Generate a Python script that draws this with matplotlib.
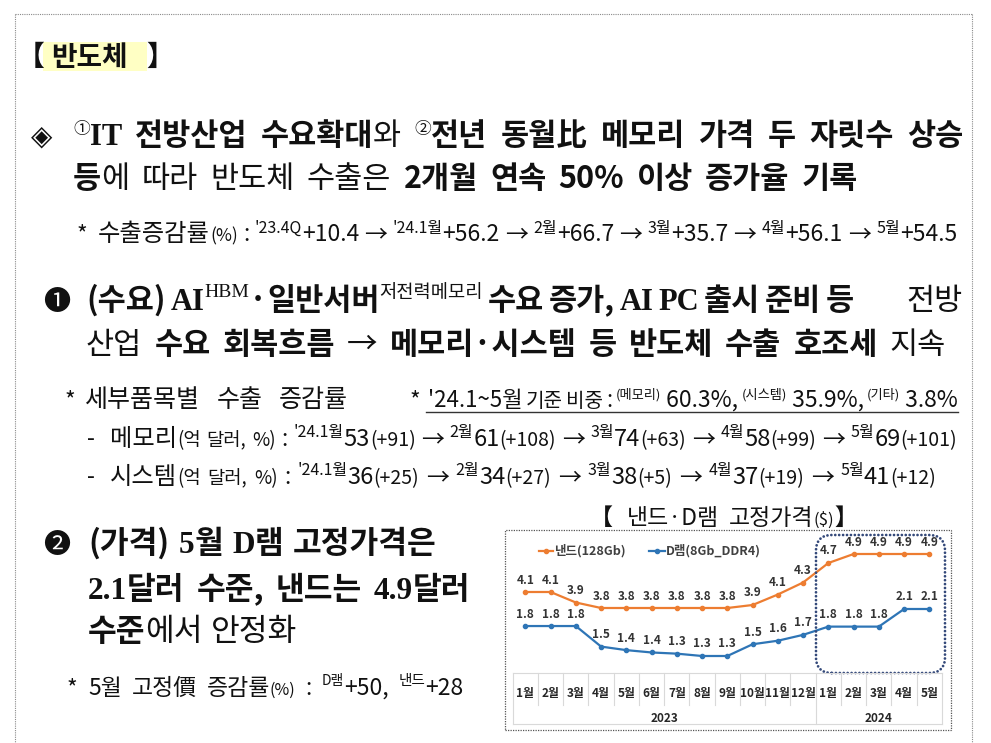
import matplotlib
matplotlib.use('Agg')
import matplotlib.pyplot as plt
from matplotlib.transforms import IdentityTransform, blended_transform_factory
from matplotlib.patches import Rectangle, FancyBboxPatch
from matplotlib.lines import Line2D

plt.rcParams['font.family'] = ['Noto Sans CJK KR', 'DejaVu Sans']

# ---------------- data ----------------
months = ['1월', '2월', '3월', '4월', '5월', '6월', '7월', '8월', '9월', '10월', '11월', '12월',
          '1월', '2월', '3월', '4월', '5월']
years = ['2023', '2024']
year_month_counts = [12, 5]
nand_price = [4.14, 4.14, 3.93, 3.82, 3.82, 3.82, 3.82, 3.82, 3.82, 3.88, 4.09, 4.33,
              4.72, 4.90, 4.90, 4.90, 4.90]
dram_price = [1.81, 1.81, 1.81, 1.46, 1.40, 1.36, 1.34, 1.30, 1.30, 1.50, 1.56, 1.66,
              1.80, 1.80, 1.80, 2.10, 2.10]
nand_label = '낸드(128Gb)'
dram_label = 'D램(8Gb_DDR4)'

export_periods = ["'23.4Q", "'24.1월", '2월', '3월', '4월', '5월']
export_growth = [10.4, 56.2, 66.7, 35.7, 56.1, 54.5]
item_months = ["'24.1월", '2월', '3월', '4월', '5월']
memory_exports = [53, 61, 74, 58, 69]
memory_growth = [91, 108, 63, 99, 101]
system_exports = [36, 34, 38, 37, 41]
system_growth = [25, 27, 5, 19, 12]
share_names = ['(메모리)', '(시스템)', '(기타)']
share_values = [60.3, 35.9, 3.8]
dram_may_change = 50
nand_may_change = 28

# ---------------- figure ----------------
W, H = 991, 743
fig = plt.figure(figsize=(W / 100, H / 100), dpi=100)
fig.patch.set_facecolor('white')
renderer = fig.canvas.get_renderer()
ID = IdentityTransform()
KR = ['Noto Sans CJK KR', 'DejaVu Sans']
SERIF = ['Liberation Serif', 'DejaVu Serif']
INK = '#111111'


def R(t, s, w='normal', f=None, r=0, c=INK):
    return (t, dict(s=s, w=w, f=f or KR, r=r, c=c))


def mk(run, x, y):
    t, st = run
    return fig.text(x, H - y + st['r'], t, transform=ID, ha='left', va='baseline',
                    fontsize=st['s'], fontweight=st['w'], family=st['f'], color=st['c'])


def place_line(words, y, x0, x1=None, gap=8):
    built, widths = [], []
    for w in words:
        if isinstance(w, tuple):
            w = [w]
        items, tot = [], 0
        for run in w:
            t = mk(run, 0, y)
            wd = t.get_window_extent(renderer).width
            items.append((t, wd))
            tot += wd
        built.append(items)
        widths.append(tot)
    if x1 is not None and len(words) > 1:
        gap = (x1 - x0 - sum(widths)) / (len(words) - 1)
    x = x0
    for items, wt in zip(built, widths):
        xx = x
        for t, wd in items:
            t.set_x(xx)
            xx += wd
        x += wt + gap


# page border (dotted)
for xs, ys in [([15, 15], [H - 14, 0]), ([15, 972], [H - 14, H - 14]), ([972, 972], [H - 14, 0])]:
    fig.add_artist(Line2D(xs, ys, transform=ID, color='#8a8a8a', lw=0.8, ls=(0, (1, 1))))

# heading
BIG = 22
fig.add_artist(Rectangle((43, H - 71), 104, 29, transform=ID, facecolor='#FFFFC4', edgecolor='none'))
mk(R('【', 20, 'bold'), 17, 66)
mk(R('반도체', 20, 'bold'), 51, 66)
mk(R('】', 20, 'bold'), 146, 66)

# ◈ paragraph
mk(R('◈', 20), 31, 145)
place_line([
    [R('①', 12, r=11), R('IT', BIG, 'bold', SERIF)],
    R('전방산업', BIG, 'bold'),
    [R('수요확대', BIG, 'bold'), R('와', BIG)],
    [R('②', 12, r=11), R('전년', BIG, 'bold')],
    R('동월比', BIG, 'bold'), R('메모리', BIG, 'bold'), R('가격', BIG, 'bold'),
    R('두', BIG, 'bold'), R('자릿수', BIG, 'bold'), R('상승', BIG, 'bold'),
], 145, 73, 963)
place_line([
    [R('등', BIG, 'bold'), R('에', BIG)],
    R('따라', BIG), R('반도체', BIG), R('수출은', BIG),
    R('2개월', BIG, 'bold'), R('연속', BIG, 'bold'), R('50%', BIG, 'bold'),
    R('이상', BIG, 'bold'), R('증가율', BIG, 'bold'), R('기록', BIG, 'bold'),
], 188, 73, 858)

NOTE = 16.5
SUP = 11.5
words = [[R('수출증감률', 17.5), R('(%)', 12.5)], R(':', NOTE)]
for i, (p, g) in enumerate(zip(export_periods, export_growth)):
    if i > 0:
        words.append(R('→', NOTE))
    words.append([R(p, SUP, r=8), R(f'+{g:.1f}', NOTE)])
mk(R('*', NOTE), 77, 241)
place_line(words, 241, 98, 957)

# ❶ paragraph
mk(R('❶', 19.5), 43, 310)
place_line([
    R('(수요)', BIG, 'bold'),
    [R('AI', BIG, 'bold', SERIF), R('HBM', 14, 'normal', SERIF, r=13), R('·', BIG, 'bold'),
     R('일반서버', BIG, 'bold'), R('저전력메모리', 13.5, r=12)],
    R('수요', BIG, 'bold'), R('증가,', BIG, 'bold'),
    R('AI', BIG, 'bold', SERIF), R('PC', BIG, 'bold', SERIF),
    R('출시', BIG, 'bold'), R('준비', BIG, 'bold'), R('등', BIG, 'bold'),
], 310, 86, 854)
place_line([R('전방', BIG)], 310, 906)
place_line([
    R('산업', BIG), R('수요', BIG, 'bold'), R('회복흐름', BIG, 'bold'), R('→', BIG),
    R('메모리·시스템', BIG, 'bold'), R('등', BIG, 'bold'), R('반도체', BIG, 'bold'),
    R('수출', BIG, 'bold'), R('호조세', BIG, 'bold'), R('지속', BIG),
], 354, 86, 946)

# detail notes
mk(R('*', NOTE), 65, 407)
place_line([R('세부품목별', 18), R('수출', 18), R('증감률', 18)], 407, 85, 348)
mk(R('*', NOTE), 410, 407)
words = [R("'24.1~5월", 16), R('기준', 14.5), R('비중', 14.5), R(':', 16)]
for i, (n, v) in enumerate(zip(share_names, share_values)):
    sep = ',' if i < len(share_names) - 1 else ''
    words.append([R(n, 9.5, r=8), R(f' {v:.1f}%{sep}', 16.5)])
place_line(words, 407, 428, 958)
fig.add_artist(Line2D([426, 958], [H - 412, H - 412], transform=ID, color='#333333', lw=1.0))


def item_line(name, vals, grs, y, x1):
    words = [[R('-', NOTE)], [R(name, 17.5), R('(억', 13.5)], R('달러,', 13.5), R('%)', 13.5),
             R(':', NOTE)]
    for i, (m, v, g) in enumerate(zip(item_months, vals, grs)):
        if i > 0:
            words.append(R('→', NOTE))
        words.append([R(m, SUP, r=9), R(f'{v}', 17), R(f'(+{g})', 14)])
    place_line(words[:1], y, 87)
    place_line(words[1:], y, 110, x1)


item_line('메모리', memory_exports, memory_growth, 446, 957)
item_line('시스템', system_exports, system_growth, 484, 936)

# ❷ paragraph
B2 = 22.5
mk(R('❷', 19.5), 43, 553)
place_line([
    R('(가격)', B2, 'bold'), [R('5', B2, 'bold', SERIF), R('월', B2, 'bold')],
    [R('D', B2, 'bold', SERIF), R('램', B2, 'bold')], R('고정가격은', B2, 'bold'),
], 553, 88, 437)
place_line([
    [R('2.1', B2, 'bold', SERIF), R('달러', B2, 'bold')], R('수준,', B2, 'bold'),
    R('낸드는', B2, 'bold'), [R('4.9', B2, 'bold', SERIF), R('달러', B2, 'bold')],
], 599, 88, 470)
place_line([[R('수준', B2, 'bold'), R('에서', B2)], R('안정화', B2)], 641, 88, 297)

M = 16.5
mk(R('*', M), 67, 695)
place_line([
    R('5월', M), R('고정價', M), [R('증감률', M), R('(%)', 11.5)], R(':', M),
    [R('D램', 10, r=10), R(f'+{dram_may_change},', M)],
    [R('낸드', 10.5, r=10), R(f'+{nand_may_change}', M)],
], 695, 88, 463)

# ---------------- inset chart ----------------
fig.add_artist(Rectangle((505, H - 730), 446, 200, transform=ID, fill=False,
                         ec='#555555', lw=0.9, ls=(0, (1, 1))))
mk(R('【', 16.5, 'bold'), 590, 525)
place_line([[R('낸드·D램', 16.5)]], 525, 627)
place_line([[R('고정가격', 16.5), R('($)', 12), R('】', 16.5, 'bold')]], 525, 729)

ax_l, ax_r, ax_top, ax_bot = 512.7, 942.0, 535.0, 673.0
ax = fig.add_axes([ax_l / W, (H - ax_bot) / H, (ax_r - ax_l) / W, (ax_bot - ax_top) / H])
xs = list(range(len(months)))
ax.set_xlim(-0.5, len(months) - 0.5)
ax.set_ylim(2.52, 5.28)
ax.axis('off')
ax2 = ax.twinx()
ax2.set_ylim(1.0106, 3.3596)
ax2.axis('off')

ORANGE, BLUE, LAB = '#ED7D31', '#2E75B6', '#333333'
ax.plot(xs, nand_price, color=ORANGE, lw=1.6, marker='o', ms=3, zorder=3)
ax2.plot(xs, dram_price, color=BLUE, lw=1.6, marker='o', ms=3, zorder=3)
for a, vals in ((ax, nand_price), (ax2, dram_price)):
    for i, v in zip(xs, vals):
        a.annotate(f'{v:.1f}', (i, v), xytext=(0, 12), textcoords='offset pixels',
                   ha='center', va='center', fontsize=8.5, fontweight='bold', color=LAB,
                   annotation_clip=False)

# legend
ly = H - 551
for (x0, x1, col, lab) in ((539, 553, ORANGE, nand_label), (649, 665, BLUE, dram_label)):
    fig.add_artist(Line2D([x0, x1], [ly, ly], transform=ID, color=col, lw=1.6))
    fig.add_artist(Line2D([(x0 + x1) / 2], [ly], transform=ID, color=col, marker='o', ms=3))
    fig.text(x1 + 1, ly, lab, transform=ID, ha='left', va='center', fontsize=9,
             fontweight='bold', color='#404040')

# category table
tb = blended_transform_factory(ax.transData, ID)
GRID = '#D9D9D9'
fig.add_artist(Line2D([-0.5, len(months) - 0.5], [H - 673, H - 673], transform=tb, color=GRID, lw=0.8))
fig.add_artist(Line2D([-0.5, len(months) - 0.5], [H - 724, H - 724], transform=tb, color=GRID, lw=0.8))
bounds = [-0.5]
for c in year_month_counts:
    bounds.append(bounds[-1] + c)
for i in range(len(months) + 1):
    b = i - 0.5
    ybot = H - 724 if b in bounds else H - 705
    fig.add_artist(Line2D([b, b], [H - 673, ybot], transform=tb, color=GRID, lw=0.8))
for i, m in enumerate(months):
    fig.text(i, H - 693, m, transform=tb, ha='center', va='center', fontsize=8.5,
             fontweight='bold', color='#262626')
for k, yr in enumerate(years):
    fig.text((bounds[k] + bounds[k + 1]) / 2, H - 719, yr, transform=tb, ha='center',
             va='center', fontsize=8.5, fontweight='bold', color='#262626')

# 2024 highlight box
hl = FancyBboxPatch((816, H - 673), 129, 138, boxstyle='round,pad=0,rounding_size=16',
                    transform=ID, fill=False, ec='#34497A', lw=2.0, ls=(0, (0.01, 1.4)))
hl.set_capstyle('round')
fig.add_artist(hl)

fig.savefig('out.png', dpi=100, facecolor='white')
